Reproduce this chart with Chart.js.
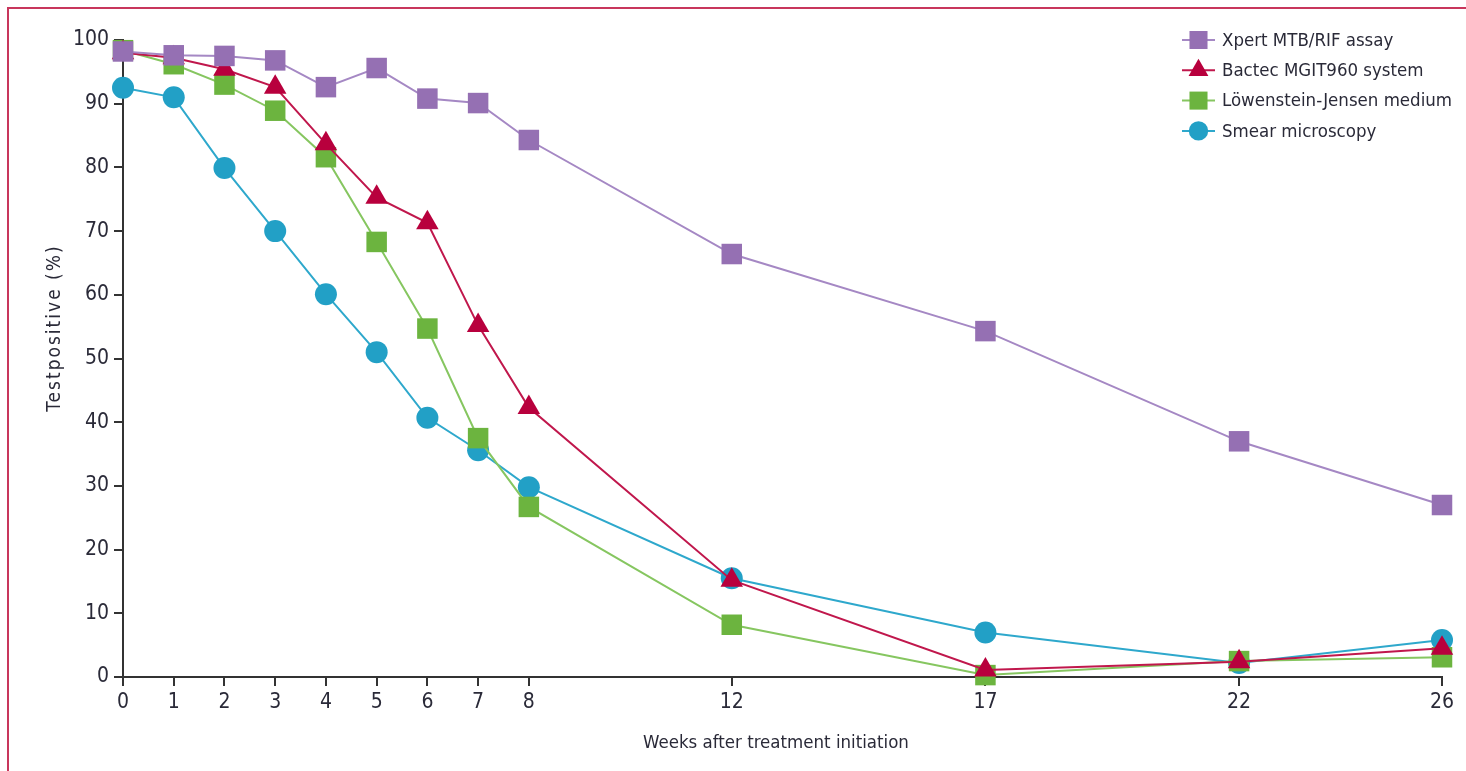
<!DOCTYPE html>
<html>
<head>
<meta charset="utf-8">
<script src="https://cdn.jsdelivr.net/npm/chart.js@4/dist/chart.umd.min.js"></script>
<style>
  html, body { margin: 0; padding: 0; background: #fff; }
  #wrap { position: relative; width: 1466px; height: 771px; overflow: hidden; }
  #frame { position: absolute; left: 7px; top: 7px; width: 1500px; height: 800px;
           border-left: 2px solid #c8365c; border-top: 2px solid #c8365c; }
  canvas { position: absolute; left: 0; top: 0; }
</style>
</head>
<body>
<div id="wrap">
  <div id="frame"></div>
  <canvas id="chart" width="1466" height="771"></canvas>
</div>
<script>
// weeks after treatment initiation
const weeks = [0, 1, 2, 3, 4, 5, 6, 7, 8, 12, 17, 22, 26];
const yTicks = [0, 10, 20, 30, 40, 50, 60, 70, 80, 90, 100];

// test positive (%)
const xpert = [98.2, 97.6, 97.5, 96.8, 92.6, 95.6, 90.8, 90.1, 84.3, 66.4, 54.3, 37.0, 27.0];
const bactec = [98.0, 97.2, 95.4, 92.6, 83.7, 75.3, 71.3, 55.2, 42.3, 15.2, 1.1, 2.4, 4.5];
const lowenstein = [98.4, 96.2, 93.0, 88.9, 81.6, 68.3, 54.7, 37.5, 26.7, 8.2, 0.3, 2.5, 3.1];
const smear = [92.5, 91.0, 79.9, 70.0, 60.1, 51.0, 40.7, 35.6, 29.8, 15.5, 7.0, 2.2, 5.8];

const seriesNames = ['Xpert MTB/RIF assay', 'Bactec MGIT960 system', 'Löwenstein-Jensen medium', 'Smear microscopy'];
const seriesColors = ['#9570b3', '#b8003d', '#6cb43f', '#22a0c6'];
const lineColors = ['#a588c4', '#c0174c', '#86c660', '#2ea8cc'];
const seriesStyles = ['rect', 'triangle', 'rect', 'circle'];
const seriesRadius = [14.5, 13, 14.5, 11];

const FONT = "'DejaVu Sans Condensed', 'DejaVu Sans', sans-serif";
const TEXT = '#2a2a38';

function makeDataset(i, values) {
  return {
    label: seriesNames[i],
    data: weeks.map((w, k) => ({ x: w, y: values[k] })),
    borderColor: lineColors[i],
    backgroundColor: seriesColors[i],
    pointBackgroundColor: seriesColors[i],
    pointBorderColor: seriesColors[i],
    pointBorderWidth: 0,
    pointStyle: seriesStyles[i],
    pointRadius: seriesRadius[i],
    pointHoverRadius: seriesRadius[i],
    borderWidth: 2,
    tension: 0,
    clip: false
  };
}

// legend drawn with a line through the marker, plus the axis titles, as in the figure
const lineLegend = {
  id: 'lineLegend',
  afterDraw(chart) {
    const ctx = chart.ctx;
    const x0 = 1182, x1 = 1215, tx = 1222;
    chart.data.datasets.forEach((ds, i) => {
      const y = 40 + i * 30.3;
      ctx.save();
      ctx.strokeStyle = ds.borderColor;
      ctx.lineWidth = 2;
      ctx.beginPath();
      ctx.moveTo(x0, y);
      ctx.lineTo(x1, y);
      ctx.stroke();
      ctx.fillStyle = ds.pointBackgroundColor;
      ctx.strokeStyle = ds.pointBackgroundColor;
      ctx.lineWidth = 0;
      Chart.helpers.drawPoint(ctx, { pointStyle: ds.pointStyle, radius: ds.pointRadius * 0.88, borderWidth: 0, rotation: 0 }, (x0 + x1) / 2, y);
      ctx.fillStyle = TEXT;
      ctx.font = '18.5px ' + FONT;
      ctx.textBaseline = 'middle';
      ctx.textAlign = 'left';
      ctx.fillText(ds.label, tx, y + 1);
      ctx.restore();
    });

    ctx.save();
    ctx.fillStyle = TEXT;
    ctx.font = '18.5px ' + FONT;
    ctx.textAlign = 'center';
    ctx.textBaseline = 'middle';
    ctx.fillText('Weeks after treatment initiation', 776, 743);
    ctx.translate(55, 328);
    ctx.rotate(-Math.PI / 2);
    ctx.font = '19px ' + FONT;
    ctx.letterSpacing = '2px';
    ctx.fillText('Testpositive (%)', 0, 0);
    ctx.restore();
  }
};

new Chart(document.getElementById('chart').getContext('2d'), {
  type: 'line',
  data: {
    datasets: [
      makeDataset(0, xpert),
      makeDataset(1, bactec),
      makeDataset(2, lowenstein),
      makeDataset(3, smear)
    ]
  },
  options: {
    responsive: false,
    animation: false,
    layout: { padding: { left: 42, top: 40, right: 24, bottom: 11 } },
    plugins: {
      legend: { display: false },
      tooltip: { enabled: false }
    },
    scales: {
      x: {
        type: 'linear',
        min: 0,
        max: 26,
        afterBuildTicks: scale => { scale.ticks = weeks.map(v => ({ value: v })); },
        afterFit: scale => { scale.height = 83; },
        grid: { drawOnChartArea: false, drawTicks: true, tickLength: 9, color: '#333', lineWidth: 2 },
        border: { display: true, color: '#333', width: 2 },
        ticks: { autoSkip: false, maxRotation: 0, padding: 4, color: TEXT, font: { family: FONT, size: 21 } },
        title: { display: false }
      },
      y: {
        min: 0,
        max: 100,
        afterBuildTicks: scale => { scale.ticks = yTicks.map(v => ({ value: v })); },
        afterFit: scale => { scale.width = 81; },
        grid: { drawOnChartArea: false, drawTicks: true, tickLength: 9, color: '#333', lineWidth: 2 },
        border: { display: true, color: '#333', width: 2 },
        ticks: { padding: 5, color: TEXT, font: { family: FONT, size: 21 } },
        title: { display: false }
      }
    }
  },
  plugins: [lineLegend]
});
</script>
</body>
</html>
